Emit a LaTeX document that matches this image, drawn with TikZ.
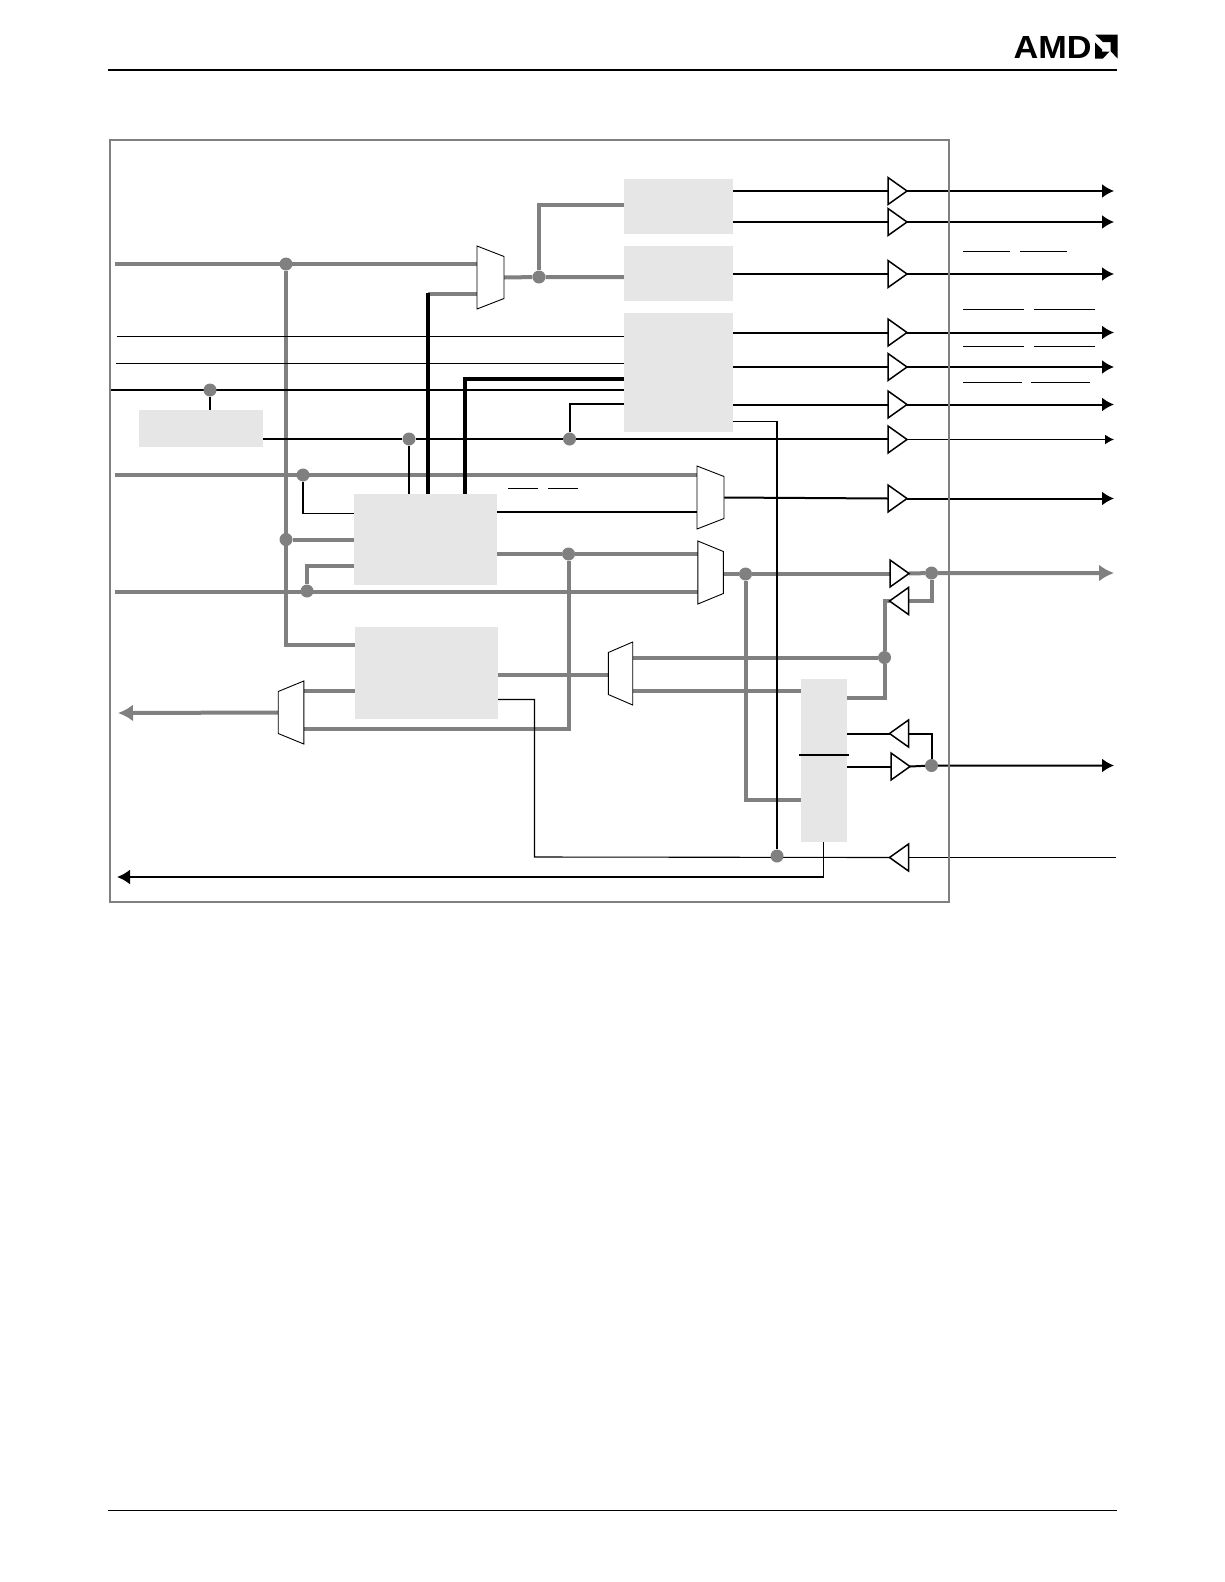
\documentclass[tikz,border=0pt]{standalone}
\usepackage{xcolor}
\usepackage{fontspec}
\setmainfont{Liberation Sans}
\usetikzlibrary{arrows.meta,backgrounds,positioning,shapes.geometric}
\definecolor{busgray}{HTML}{808080}
\definecolor{blockgray}{HTML}{E6E6E6}
\tikzset{
  block/.style={fill=blockgray,inner sep=0pt,outer sep=0pt},
  mux/.style={inner sep=0pt,outer sep=0pt,minimum width=27pt,minimum height=63pt},
  muxr/.style={mux,append after command={\pgfextra{\draw[draw=black,line width=.9pt,fill=white]
      (\tikzlastnode.north west)--([yshift=-10.5pt]\tikzlastnode.north east)--
      ([yshift=10.5pt]\tikzlastnode.south east)--(\tikzlastnode.south west)--cycle;}}},
  muxl/.style={mux,append after command={\pgfextra{\draw[draw=black,line width=.9pt,fill=white]
      (\tikzlastnode.north east)--([yshift=-10.5pt]\tikzlastnode.north west)--
      ([yshift=10.5pt]\tikzlastnode.south west)--(\tikzlastnode.south east)--cycle;}}},
  amp/.style={isosceles triangle,isosceles triangle stretches=true,draw=black,line width=1.5pt,
              fill=white,inner sep=0pt,outer sep=0pt,minimum width=27pt,minimum height=19pt,anchor=lower side},
  ampr/.style={amp,shape border rotate=0},
  ampl/.style={amp,shape border rotate=180},
  dot/.style={circle,fill=busgray,minimum size=13pt,inner sep=0pt},
  gbus/.style={draw=busgray,line width=4pt},
  kbus/.style={draw=black,line width=3.7pt},
  kwire/.style={draw=black,line width=2pt},
  twire/.style={draw=black,line width=1.1pt},
  gout/.style={gbus,-{Latex[length=15pt,width=17pt]}},
  kout/.style={kwire,-{Latex[length=12pt,width=14pt]}},
  overbar/.style={draw=black,line width=.8pt}
}
\begin{document}
\begin{tikzpicture}[x=1pt,y=-1pt]
  \useasboundingbox (0,0) rectangle (1224,1582);
  % page rules and logo
  \coordinate (hdl) at (108,70); \coordinate (hdr) at (1117,70);
  \coordinate (ftl) at (108,1510.5); \coordinate (ftr) at (1117,1510.5);
  \draw[line width=1.6pt] (hdl)--(hdr);
  \draw[line width=1.6pt] (ftl)--(ftr);
  \node[anchor=base west,inner sep=0pt,xscale=1.07,transform shape,font=\fontsize{32}{32}\selectfont\bfseries] (logo) at (1013.5,58) {AMD};
  \fill (1095,34.5)--(1117.5,34.5)--(1117.5,58.5)--(1110.5,51)--(1110.5,42)--(1103,42)--cycle;
  \fill (1095,42.5)--(1102,49.5)--(1102,51.5)--(1109.5,51.5)--(1103,58.5)--(1095,58.5)--cycle;
  % blocks
  \node[block,minimum width=109pt,minimum height=55pt,anchor=north west] (topblk) at (624,179) {};
  \node[block,minimum width=109pt,minimum height=55pt,below=12pt of topblk] (midblk) {};
  \node[block,minimum width=109pt,minimum height=119pt,below=12pt of midblk] (ctlblk) {};
  \node[block,minimum width=124pt,minimum height=37pt,anchor=north west] (clkblk) at (139,410) {};
  \node[block,minimum width=143pt,minimum height=91pt,anchor=north west] (seqblk) at (354,494) {};
  \node[block,minimum width=143pt,minimum height=92pt,anchor=north west] (fifoblk) at (355,627) {};
  \node[block,minimum width=46pt,minimum height=163pt,anchor=north west] (pinblk) at (800.5,679) {};
  % muxes
  \node[muxr] (muxa) at (490.5,277.5) {};
  \node[muxr] (muxb) at (710.5,497.5) {};
  \node[muxr,minimum width=25.5pt] (muxc) at (710.6,572.5) {};
  \node[muxl,minimum width=24.4pt] (muxd) at (620.5,673.5) {};
  \node[muxl,minimum width=25.6pt] (muxe) at (291,712.5) {};
  % output drivers
  \node[ampr] (ampa) at (888,191) {};
  \node[ampr] (ampb) at (888,222) {};
  \node[ampr] (ampc) at (888,274) {};
  \node[ampr] (ampd) at (888,332.5) {};
  \node[ampr] (ampe) at (888,367) {};
  \node[ampr] (ampf) at (888,404.5) {};
  \node[ampr] (ampg) at (888,439.5) {};
  \node[ampr] (amph) at (888,498.5) {};
  \node[ampr] (ampi) at (890,573.5) {};
  \node[ampl] (ampj) at (908.5,601) {};
  \node[ampl] (ampk) at (908.5,733.5) {};
  \node[ampr] (ampm) at (891,766.5) {};
  \node[ampl] (ampn) at (908.5,857.5) {};
  % junctions
  \node[dot] (dota) at (286,264) {};
  \node[dot] (dotb) at (539,277) {};
  \node[dot] (dotc) at (210,390) {};
  \node[dot] (dotd) at (409,439) {};
  \node[dot] (dote) at (569.5,439) {};
  \node[dot] (dotf) at (303,475) {};
  \node[dot] (dotg) at (286,539.5) {};
  \node[dot] (doth) at (307,591) {};
  \node[dot] (doti) at (568.5,554) {};
  \node[dot] (dotj) at (745.5,574) {};
  \node[dot] (dotk) at (931.5,573) {};
  \node[dot] (dotm) at (884.5,657.5) {};
  \node[dot] (dotn) at (931.5,765.5) {};
  \node[dot] (dotp) at (777,856) {};
  % pin ends
  \coordinate (ina) at (115,264); \coordinate (inb) at (117,336.5);
  \coordinate (inc) at (116,363.5); \coordinate (ind) at (109,390);
  \coordinate (ine) at (115,475); \coordinate (inf) at (115,591.5);
  \coordinate (outg) at (118,713); \coordinate (outk) at (117,877);
  \coordinate (pinfoot) at (823.5,877);
  \coordinate (pin) at (1114,191);
  \begin{scope}[on background layer]
    % grey buses
    \draw[gbus] (ina)--(ina-|muxa.west);
    \draw[gbus] (dota)|-(fifoblk.west|-0,645);
    \draw[gbus] (dotg)--(dotg-|seqblk.west);
    \draw[gbus] (ine)--(ine-|muxb.west);
    \draw[gbus] (inf)--(inf-|muxc.west);
    \draw[gbus] (doth)|-(seqblk.west|-0,566);
    \draw[gbus] (428,294)--(muxa.west|-0,294);
    \draw[gbus] (muxa.east)--(dotb)--(dotb-|midblk.west);
    \draw[gbus] (dotb)|-(topblk.west|-0,205);
    \draw[gbus] (seqblk.east|-doti)--(doti)--(doti-|muxc.west);
    \draw[gbus] (doti)|-(muxe.east|-0,729);
    \draw[gbus] (fifoblk.east|-0,675)--(muxd.west|-0,675);
    \draw[gbus] (fifoblk.west|-0,691)--(muxe.east|-0,691);
    \draw[gout] (muxe.west)--(outg);
    \draw[gbus] (muxc.east|-dotj)--(dotj)--(dotj-|ampi.lower side);
    \draw[gbus] (dotj)|-(pinblk.west|-0,800);
    \draw[gbus] (muxd.east|-dotm)--(dotm);
    \draw[gbus] (muxd.east|-0,691)--(pinblk.west|-0,691);
    \draw[gbus] (pinblk.east|-0,698)-|(dotm);
    \draw[gbus] (dotm)|-(ampj.apex);
    \draw[gbus] (ampj.lower side)-|(dotk);
    \draw[gout] (ampi.apex)--(dotk)--(dotk-|pin);
    % black lines
    \draw[kbus] (seqblk.north-|428,0)|-(428,292.5);
    \draw[kbus] (seqblk.north-|465,0)|-(ctlblk.west|-0,379);
    \draw[twire] (inb)--(inb-|ctlblk.west);
    \draw[twire] (inc)--(inc-|ctlblk.west);
    \draw[line width=2.3pt] (ind)--(ind-|ctlblk.west);
    \draw[kwire] (dotc)--(dotc|-clkblk.north);
    \draw[kwire] (clkblk.east|-dotd)--(dotd)--(dote)--(dote-|ampg.lower side);
    \draw[line width=1.5pt] (dotd)--(dotd|-seqblk.north);
    \draw[kwire] (dote)|-(ctlblk.west|-0,404);
    \draw[line width=1.6pt] (dotf)|-(seqblk.west|-0,513.5);
    \draw[kwire] (seqblk.east|-0,511.5)--(muxb.west|-0,511.5);
    \draw[kwire] (muxb.east)--(amph.lower side);
    \draw[kwire] (topblk.east|-ampa)--(ampa.lower side);
    \draw[kwire] (topblk.east|-ampb)--(ampb.lower side);
    \draw[kwire] (midblk.east|-ampc)--(ampc.lower side);
    \draw[kwire] (ctlblk.east|-ampd)--(ampd.lower side);
    \draw[kwire] (ctlblk.east|-ampe)--(ampe.lower side);
    \draw[kwire] (ctlblk.east|-ampf)--(ampf.lower side);
    \draw[kout] (ampa.apex)--(ampa.apex-|pin);
    \draw[kout] (ampb.apex)--(ampb.apex-|pin);
    \draw[kout] (ampc.apex)--(ampc.apex-|pin);
    \draw[kout] (ampd.apex)--(ampd.apex-|pin);
    \draw[kout] (ampe.apex)--(ampe.apex-|pin);
    \draw[kout] (ampf.apex)--(ampf.apex-|pin);
    \draw[kout] (amph.apex)--(amph.apex-|pin);
    \draw[draw=black,line width=1.3pt,-{Latex[length=9pt,width=10pt]}] (ampg.apex)--(ampg.apex-|pin);
    \draw[twire] (ctlblk.east|-0,421.5)-|(dotp);
    \draw[twire] (fifoblk.east|-0,699.5)-|(534.5,857)--(ampn.apex);
    \draw[twire] (ampn.lower side)--(1116,857.5);
    \draw[twire] (pinblk.south)--(pinfoot);
    \draw[line width=2.2pt,-{Latex[length=13pt,width=15pt]}] (pinfoot)--(outk);
    \draw[kwire] (pinblk.east|-ampk)--(ampk.apex);
    \draw[kwire] (ampk.lower side)-|(dotn);
    \draw[kwire] (pinblk.east|-ampm)--(ampm.lower side);
    \draw[kout] (ampm.apex)--(dotn)--(dotn-|pin);
  \end{scope}
  % divider in pin block
  \draw[kwire] (799,755)--(849,755);
  % chip outline
  \node[draw=busgray,line width=2pt,inner sep=0pt,minimum width=839.5pt,minimum height=762pt,anchor=north west] (chip) at (108.5,138.5) {};
  % bars left from the erased pin names
  \draw[overbar] (963,251)--(1010,251) (1020,251)--(1067,251);
  \draw[overbar] (963,309.5)--(1024,309.5) (1034,309.5)--(1095,309.5);
  \draw[overbar] (963,346.5)--(1024,346.5) (1034,346.5)--(1095,346.5);
  \draw[overbar] (963,382)--(1022,382) (1031,382)--(1090,382);
  \draw[overbar] (508,488.5)--(538,488.5) (548,488.5)--(578,488.5);
\end{tikzpicture}
\end{document}
